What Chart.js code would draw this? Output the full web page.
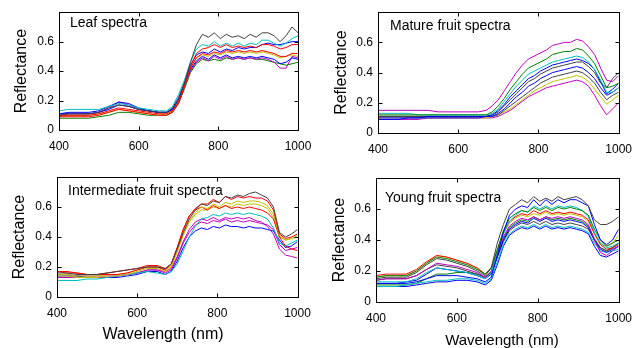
<!DOCTYPE html>
<html>
<head>
<meta charset="utf-8">
<script src="https://cdn.jsdelivr.net/npm/chart.js@4/dist/chart.umd.min.js"></script>
<style>
    html, body { margin: 0; padding: 0; background: #fff; }
    #wrap { position: relative; width: 641px; height: 348px; }
    #wrap canvas { position: absolute; left: 0; top: 0; }
</style>
</head>
<body>
<div id="wrap">
    <canvas id="leaf" width="641" height="348"></canvas>
    <canvas id="mature" width="641" height="348"></canvas>
    <canvas id="intermediate" width="641" height="348"></canvas>
    <canvas id="young" width="641" height="348"></canvas>
</div>
<script>
// Shared x values (nm) and tick values
const wavelengths = [400, 425, 450, 475, 500, 525, 550, 575, 600, 625, 650, 670, 685, 700, 715, 730, 745,
    760, 775, 790, 805, 820, 835, 850, 865, 880, 895, 910, 925, 940, 955, 970, 985, 1000];
const xTicks = [400, 600, 800, 1000];
const yTicks = [0, 0.2, 0.4, 0.6];

// Leaf spectra (one row per sample)
const leafSpectra = [
    [0.10,0.11,0.11,0.11,0.12,0.15,0.17,0.16,0.14,0.13,0.12,0.12,0.15,0.22,0.32,0.46,0.58,0.65,0.63,0.66,0.62,0.65,0.63,0.64,0.62,0.65,0.63,0.66,0.66,0.64,0.60,0.64,0.70,0.66],
    [0.13,0.14,0.14,0.14,0.14,0.16,0.18,0.17,0.15,0.14,0.13,0.13,0.16,0.24,0.34,0.46,0.55,0.58,0.57,0.60,0.57,0.59,0.57,0.59,0.57,0.59,0.58,0.61,0.61,0.59,0.57,0.59,0.62,0.64],
    [0.09,0.09,0.09,0.09,0.10,0.12,0.14,0.13,0.12,0.11,0.10,0.10,0.12,0.18,0.29,0.43,0.52,0.55,0.56,0.58,0.56,0.58,0.56,0.57,0.56,0.57,0.56,0.58,0.58,0.57,0.55,0.56,0.58,0.58],
    [0.11,0.12,0.12,0.12,0.13,0.16,0.19,0.18,0.15,0.13,0.12,0.12,0.14,0.21,0.32,0.44,0.51,0.53,0.52,0.55,0.53,0.55,0.54,0.56,0.55,0.56,0.56,0.58,0.59,0.58,0.58,0.59,0.60,0.60],
    [0.10,0.10,0.10,0.10,0.11,0.13,0.15,0.14,0.13,0.12,0.11,0.11,0.13,0.19,0.30,0.42,0.49,0.52,0.51,0.53,0.52,0.54,0.53,0.54,0.53,0.54,0.53,0.54,0.53,0.52,0.50,0.50,0.52,0.52],
    [0.09,0.10,0.10,0.10,0.11,0.12,0.14,0.13,0.12,0.11,0.10,0.11,0.13,0.20,0.31,0.42,0.49,0.51,0.50,0.52,0.51,0.53,0.52,0.53,0.52,0.53,0.52,0.53,0.52,0.51,0.49,0.50,0.51,0.50],
    [0.11,0.11,0.11,0.11,0.12,0.14,0.17,0.16,0.14,0.13,0.12,0.12,0.14,0.20,0.31,0.41,0.47,0.50,0.48,0.51,0.49,0.51,0.49,0.50,0.49,0.50,0.49,0.50,0.49,0.48,0.45,0.46,0.49,0.48],
    [0.10,0.11,0.11,0.11,0.12,0.15,0.19,0.17,0.14,0.13,0.12,0.12,0.14,0.20,0.30,0.40,0.46,0.49,0.47,0.50,0.48,0.50,0.48,0.49,0.48,0.49,0.48,0.49,0.48,0.46,0.42,0.42,0.50,0.49],
    [0.08,0.08,0.08,0.08,0.09,0.10,0.12,0.12,0.11,0.10,0.10,0.10,0.12,0.18,0.28,0.39,0.45,0.48,0.47,0.48,0.47,0.49,0.48,0.49,0.48,0.49,0.48,0.48,0.47,0.46,0.45,0.44,0.45,0.46]
];

// Mature fruit spectra
const matureSpectra = [
    [0.15,0.15,0.15,0.15,0.15,0.15,0.14,0.14,0.14,0.14,0.14,0.15,0.18,0.22,0.28,0.34,0.40,0.45,0.49,0.51,0.53,0.55,0.58,0.59,0.60,0.60,0.62,0.61,0.57,0.52,0.43,0.35,0.34,0.38],
    [0.12,0.12,0.12,0.12,0.12,0.12,0.12,0.12,0.12,0.12,0.12,0.12,0.14,0.18,0.23,0.29,0.34,0.39,0.43,0.45,0.47,0.49,0.52,0.53,0.54,0.54,0.56,0.55,0.51,0.46,0.38,0.30,0.31,0.33],
    [0.13,0.13,0.13,0.13,0.12,0.12,0.12,0.12,0.12,0.12,0.12,0.12,0.13,0.16,0.21,0.26,0.31,0.35,0.39,0.41,0.43,0.45,0.47,0.48,0.49,0.50,0.51,0.50,0.47,0.42,0.35,0.27,0.27,0.30],
    [0.10,0.10,0.10,0.10,0.10,0.11,0.11,0.11,0.11,0.11,0.11,0.11,0.12,0.15,0.19,0.24,0.28,0.32,0.36,0.38,0.41,0.43,0.45,0.46,0.47,0.48,0.49,0.48,0.46,0.42,0.34,0.26,0.29,0.33],
    [0.11,0.11,0.11,0.11,0.11,0.11,0.11,0.11,0.11,0.11,0.11,0.11,0.12,0.14,0.18,0.22,0.26,0.30,0.34,0.36,0.39,0.41,0.43,0.44,0.45,0.46,0.47,0.47,0.44,0.40,0.33,0.30,0.36,0.40],
    [0.09,0.09,0.09,0.10,0.10,0.10,0.10,0.10,0.10,0.10,0.10,0.11,0.11,0.13,0.16,0.20,0.24,0.27,0.31,0.33,0.36,0.38,0.40,0.41,0.42,0.43,0.44,0.43,0.40,0.36,0.30,0.25,0.27,0.30],
    [0.11,0.11,0.11,0.11,0.11,0.11,0.11,0.11,0.11,0.11,0.11,0.11,0.11,0.12,0.15,0.18,0.21,0.24,0.27,0.30,0.33,0.35,0.37,0.38,0.39,0.40,0.41,0.40,0.37,0.33,0.27,0.22,0.25,0.27],
    [0.10,0.10,0.10,0.10,0.10,0.10,0.10,0.10,0.10,0.10,0.10,0.10,0.11,0.12,0.14,0.16,0.19,0.22,0.25,0.28,0.30,0.32,0.34,0.35,0.36,0.37,0.38,0.37,0.34,0.29,0.24,0.19,0.22,0.25],
    [0.09,0.09,0.09,0.09,0.09,0.10,0.10,0.10,0.10,0.10,0.10,0.10,0.10,0.11,0.13,0.15,0.18,0.21,0.24,0.26,0.28,0.30,0.31,0.32,0.33,0.34,0.35,0.34,0.31,0.25,0.18,0.12,0.16,0.20]
];

// Intermediate fruit spectra
const intermediateSpectra = [
    [0.16,0.16,0.15,0.15,0.15,0.16,0.17,0.18,0.19,0.20,0.20,0.19,0.22,0.32,0.43,0.52,0.58,0.62,0.61,0.64,0.63,0.67,0.66,0.68,0.67,0.69,0.70,0.68,0.66,0.60,0.43,0.40,0.42,0.45],
    [0.17,0.16,0.16,0.15,0.15,0.15,0.15,0.16,0.18,0.20,0.20,0.18,0.22,0.33,0.45,0.54,0.59,0.62,0.62,0.65,0.63,0.67,0.65,0.67,0.66,0.67,0.66,0.66,0.64,0.58,0.42,0.39,0.40,0.42],
    [0.15,0.15,0.14,0.14,0.14,0.15,0.15,0.16,0.18,0.20,0.20,0.18,0.21,0.31,0.42,0.51,0.56,0.60,0.59,0.62,0.60,0.63,0.62,0.64,0.63,0.64,0.64,0.63,0.61,0.55,0.41,0.38,0.39,0.40],
    [0.17,0.17,0.16,0.15,0.15,0.16,0.17,0.18,0.19,0.21,0.21,0.19,0.22,0.33,0.45,0.54,0.58,0.60,0.58,0.61,0.59,0.61,0.59,0.60,0.59,0.60,0.59,0.58,0.56,0.52,0.40,0.34,0.32,0.31],
    [0.14,0.14,0.13,0.13,0.13,0.14,0.14,0.15,0.17,0.19,0.19,0.17,0.20,0.30,0.41,0.50,0.55,0.58,0.58,0.60,0.59,0.61,0.60,0.62,0.61,0.62,0.62,0.61,0.59,0.53,0.40,0.38,0.39,0.41],
    [0.11,0.11,0.11,0.12,0.12,0.13,0.14,0.15,0.16,0.17,0.16,0.15,0.17,0.22,0.31,0.40,0.47,0.52,0.53,0.55,0.54,0.56,0.55,0.56,0.55,0.56,0.55,0.54,0.52,0.46,0.36,0.34,0.36,0.38],
    [0.13,0.13,0.13,0.13,0.13,0.13,0.14,0.15,0.16,0.18,0.18,0.17,0.19,0.27,0.37,0.45,0.50,0.52,0.51,0.53,0.51,0.53,0.52,0.53,0.52,0.53,0.51,0.50,0.47,0.42,0.32,0.28,0.27,0.26],
    [0.14,0.14,0.14,0.13,0.13,0.13,0.13,0.14,0.15,0.17,0.17,0.15,0.17,0.24,0.33,0.40,0.44,0.46,0.45,0.47,0.46,0.48,0.47,0.47,0.46,0.47,0.46,0.46,0.45,0.44,0.38,0.33,0.34,0.37],
    [0.15,0.15,0.14,0.14,0.14,0.14,0.14,0.15,0.16,0.18,0.18,0.16,0.18,0.26,0.36,0.43,0.48,0.50,0.49,0.51,0.50,0.52,0.50,0.51,0.50,0.51,0.50,0.49,0.48,0.45,0.35,0.31,0.32,0.33]
];

// Young fruit spectra
const youngSpectra = [
    [0.15,0.16,0.16,0.16,0.19,0.24,0.28,0.27,0.25,0.23,0.20,0.17,0.22,0.38,0.50,0.60,0.63,0.66,0.64,0.68,0.65,0.67,0.65,0.68,0.66,0.67,0.68,0.66,0.62,0.53,0.50,0.50,0.52,0.55],
    [0.12,0.12,0.12,0.12,0.13,0.15,0.17,0.17,0.17,0.16,0.15,0.13,0.16,0.30,0.45,0.56,0.60,0.62,0.61,0.66,0.62,0.66,0.63,0.66,0.64,0.66,0.66,0.64,0.62,0.50,0.40,0.37,0.40,0.47],
    [0.16,0.17,0.17,0.17,0.20,0.25,0.29,0.28,0.26,0.24,0.21,0.18,0.22,0.34,0.46,0.54,0.57,0.59,0.58,0.61,0.59,0.61,0.59,0.61,0.60,0.61,0.60,0.59,0.56,0.47,0.40,0.36,0.38,0.40],
    [0.13,0.13,0.13,0.13,0.15,0.19,0.22,0.21,0.20,0.19,0.17,0.15,0.19,0.32,0.44,0.52,0.56,0.59,0.58,0.62,0.60,0.62,0.60,0.62,0.61,0.62,0.61,0.59,0.55,0.45,0.38,0.35,0.36,0.38],
    [0.17,0.18,0.18,0.18,0.21,0.26,0.30,0.29,0.27,0.25,0.22,0.18,0.22,0.33,0.45,0.52,0.55,0.57,0.56,0.59,0.57,0.59,0.57,0.58,0.57,0.58,0.57,0.56,0.53,0.44,0.37,0.34,0.35,0.37],
    [0.16,0.17,0.17,0.17,0.20,0.25,0.30,0.29,0.27,0.25,0.22,0.18,0.22,0.33,0.44,0.51,0.54,0.56,0.55,0.57,0.56,0.58,0.56,0.57,0.56,0.57,0.56,0.55,0.52,0.44,0.38,0.36,0.38,0.43],
    [0.14,0.15,0.15,0.15,0.17,0.21,0.25,0.24,0.23,0.21,0.19,0.16,0.20,0.31,0.42,0.49,0.52,0.54,0.53,0.55,0.53,0.55,0.54,0.55,0.54,0.55,0.54,0.53,0.50,0.40,0.32,0.30,0.33,0.36],
    [0.12,0.12,0.12,0.13,0.14,0.18,0.22,0.21,0.20,0.19,0.17,0.15,0.18,0.29,0.40,0.47,0.50,0.52,0.51,0.54,0.52,0.54,0.52,0.53,0.52,0.53,0.52,0.51,0.48,0.40,0.34,0.32,0.34,0.36],
    [0.14,0.15,0.15,0.15,0.17,0.21,0.24,0.23,0.22,0.20,0.18,0.16,0.19,0.29,0.39,0.46,0.49,0.51,0.50,0.52,0.50,0.52,0.50,0.51,0.50,0.51,0.50,0.49,0.47,0.40,0.35,0.33,0.35,0.38],
    [0.10,0.10,0.10,0.11,0.12,0.13,0.14,0.14,0.15,0.15,0.14,0.12,0.15,0.26,0.37,0.44,0.47,0.49,0.48,0.50,0.48,0.50,0.48,0.49,0.48,0.49,0.48,0.47,0.45,0.38,0.33,0.32,0.33,0.34],
    [0.11,0.11,0.11,0.11,0.12,0.15,0.18,0.18,0.19,0.19,0.18,0.16,0.19,0.30,0.41,0.48,0.51,0.53,0.52,0.55,0.53,0.55,0.53,0.54,0.53,0.54,0.53,0.52,0.49,0.41,0.35,0.33,0.35,0.38],
    [0.10,0.10,0.10,0.10,0.11,0.12,0.13,0.13,0.14,0.14,0.13,0.11,0.14,0.24,0.36,0.43,0.46,0.48,0.47,0.49,0.47,0.49,0.47,0.48,0.47,0.48,0.47,0.46,0.44,0.36,0.30,0.29,0.31,0.33]
];

// MATLAB-like line colours
const palette = { b: '#0000FF', g: '#008000', r: '#FF0000', c: '#00BFBF', m: '#BF00BF', y: '#BFBF00', k: '#404040' };
const FONT = '"Liberation Sans", Arial, sans-serif';

// Box around the plot, inward tick marks and the in-plot text
const panelDeco = {
    id: 'panelDeco',
    afterDatasetsDraw(chart, args, opts) {
        const {ctx, chartArea: a, scales: {x, y}} = chart;
        const L = Math.round(a.left) + 0.5, R = Math.round(a.right) + 0.5;
        const T = Math.round(a.top) + 0.5, B = Math.round(a.bottom) + 0.5;
        ctx.save();
        ctx.strokeStyle = '#000';
        ctx.lineWidth = 1;
        ctx.strokeRect(L, T, R - L, B - T);
        ctx.beginPath();
        xTicks.forEach(v => {
            const px = Math.round(x.getPixelForValue(v)) + 0.5;
            ctx.moveTo(px, B); ctx.lineTo(px, B - 4);
            ctx.moveTo(px, T); ctx.lineTo(px, T + 4);
        });
        yTicks.forEach(v => {
            const py = Math.round(y.getPixelForValue(v)) + 0.5;
            ctx.moveTo(L, py); ctx.lineTo(L + 4, py);
            ctx.moveTo(R, py); ctx.lineTo(R - 4, py);
        });
        ctx.stroke();

        ctx.fillStyle = '#000';
        ctx.textBaseline = 'alphabetic';
        (opts.texts || []).forEach(t => {
            ctx.font = t.size + 'px ' + FONT;
            ctx.textAlign = t.align || 'left';
            ctx.fillText(t.text, t.x, t.y);
        });
        ctx.restore();
    }
};

function makeChart(canvasId, series, colors, box, texts) {
    const yTitleLeft = box.yTitle - 8;
    new Chart(document.getElementById(canvasId), {
        type: 'line',
        data: {
            datasets: series.map((vals, i) => ({
                data: vals.map((v, j) => ({x: wavelengths[j], y: v})),
                borderColor: palette[colors[i]],
                borderWidth: 1,
                pointRadius: 0,
                tension: 0,
                fill: false
            }))
        },
        options: {
            responsive: false,
            animation: false,
            events: [],
            layout: {
                padding: {left: yTitleLeft, top: box.top, right: 641 - box.right, bottom: 348 - box.bottom - 30}
            },
            plugins: {
                legend: {display: false},
                tooltip: {enabled: false},
                panelDeco: {texts: texts}
            },
            scales: {
                x: {
                    type: 'linear',
                    min: 400,
                    max: 1000,
                    afterBuildTicks: s => { s.ticks = xTicks.map(v => ({value: v})); },
                    afterFit: s => { s.height = 30; },
                    grid: {display: false, drawTicks: false},
                    border: {display: false},
                    ticks: {
                        padding: 9, color: '#000', maxRotation: 0, autoSkip: false, font: {family: FONT, size: 12},
                        callback: v => String(v)
                    }
                },
                y: {
                    type: 'linear',
                    min: 0,
                    max: 0.8,
                    afterBuildTicks: s => { s.ticks = yTicks.map(v => ({value: v})); },
                    afterFit: s => { s.width = box.left - yTitleLeft; },
                    grid: {display: false, drawTicks: false},
                    border: {display: false},
                    ticks: {
                        padding: 5, color: '#000', autoSkip: false, font: {family: FONT, size: 12},
                        callback: v => v === 0 ? '0' : v.toFixed(1)
                    },
                    title: {display: true, text: 'Reflectance', color: '#000', padding: 0, font: {family: FONT, size: 16, lineHeight: 1}}
                }
            }
        },
        plugins: [panelDeco]
    });
}

makeChart('leaf', leafSpectra, 'kcrbrybmg',
    {left: 59, right: 298, top: 8.5, bottom: 130, yTitle: 22},
    [{text: 'Leaf spectra', x: 70, y: 27, size: 14}]);

makeChart('mature', matureSpectra, 'mgcbkbkym',
    {left: 378, right: 621.5, top: 10, bottom: 133, yTitle: 342},
    [{text: 'Mature fruit spectra', x: 390, y: 30, size: 14}]);

makeChart('intermediate', intermediateSpectra, 'kryrycmbm',
    {left: 57, right: 297.5, top: 177, bottom: 297, yTitle: 20},
    [{text: 'Intermediate fruit spectra', x: 68, y: 195, size: 14},
     {text: 'Wavelength (nm)', x: 163, y: 339, size: 16, align: 'center'}]);

makeChart('young', youngSpectra, 'kbgcrymbkcgb',
    {left: 376, right: 621, top: 178, bottom: 302, yTitle: 340},
    [{text: 'Young fruit spectra', x: 385, y: 201.5, size: 14},
     {text: 'Wavelength (nm)', x: 502, y: 345, size: 15, align: 'center'}]);
</script>
</body>
</html>
